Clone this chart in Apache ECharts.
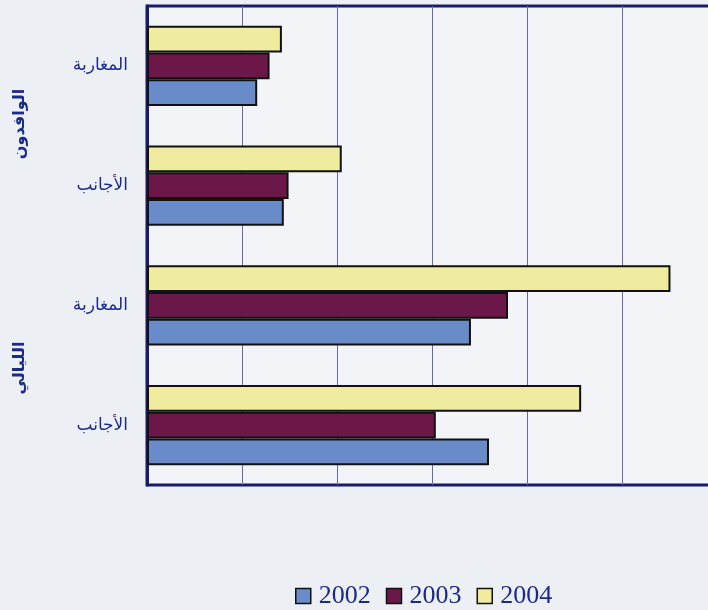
<!DOCTYPE html>
<html>
<head>
<meta charset="utf-8">
<script src="https://cdn.jsdelivr.net/npm/echarts@6/dist/echarts.min.js"></script>
<style>
  html, body { margin: 0; padding: 0; background: #eceff4; }
  #main { width: 708px; height: 610px; }
</style>
</head>
<body>
<div id="main"></div>
<script type="text/javascript">
    // data: categories listed top to bottom
    var categories = ['المغاربة', 'الأجانب', 'المغاربة', 'الأجانب'];
    var groupNames = ['الوافدون', 'الليالي'];
    var years = ['2002', '2003', '2004'];
    var values2002 = [1.16, 1.44, 3.41, 3.60];
    var values2003 = [1.29, 1.49, 3.80, 3.04];
    var values2004 = [1.42, 2.05, 5.51, 4.57];

    var colors = ['#6a8bc9', '#6b1848', '#efeb9f'];
    var navy = '#1b1a6a';

    var myChart = echarts.init(document.getElementById('main'));

    function barSeries(name, data, color) {
        return {
            name: name,
            type: 'bar',
            data: data,
            barGap: '0%',
            barCategoryGap: '33%',
            itemStyle: { color: color, borderColor: '#111', borderWidth: 2 }
        };
    }

    var option = {
        backgroundColor: '#eceff4',
        animation: false,
        grid: {
            left: 147, top: 6, bottom: 125, right: -9,
            outerBoundsMode: 'none',
            show: true,
            backgroundColor: '#f2f4f8',
            borderColor: navy,
            borderWidth: 3
        },
        legend: {
            data: years,
            left: 290,
            top: 578,
            icon: 'rect',
            itemWidth: 15,
            itemHeight: 15,
            itemGap: 15,
            itemStyle: { borderColor: '#111', borderWidth: 1.5 },
            textStyle: {
                fontFamily: 'Liberation Serif',
                fontSize: 26,
                color: '#1b2a8c',
                padding: [0, 0, 0, 3]
            }
        },
        xAxis: {
            type: 'value',
            min: 0,
            max: 6,
            interval: 1,
            axisLine: { show: false },
            axisTick: { show: false },
            axisLabel: { show: false },
            splitLine: { lineStyle: { color: '#6668a6', width: 1 } }
        },
        yAxis: {
            type: 'category',
            data: categories,
            inverse: true,
            axisLine: { lineStyle: { color: navy, width: 3 } },
            axisTick: { show: false },
            axisLabel: {
                margin: 19,
                fontFamily: 'DejaVu Sans',
                fontSize: 17,
                color: '#1b2a8c'
            }
        },
        graphic: [
            {
                type: 'text', x: 20, y: 124, rotation: Math.PI / 2,
                style: {
                    text: groupNames[0], fill: '#1b2a8c',
                    font: 'bold 16px "DejaVu Sans"',
                    align: 'center', verticalAlign: 'middle'
                }
            },
            {
                type: 'text', x: 20, y: 368, rotation: Math.PI / 2,
                style: {
                    text: groupNames[1], fill: '#1b2a8c',
                    font: 'bold 16px "DejaVu Sans"',
                    align: 'center', verticalAlign: 'middle'
                }
            }
        ],
        // 2004 is drawn at the top of each group, 2002 at the bottom
        series: [
            barSeries(years[2], values2004, colors[2]),
            barSeries(years[1], values2003, colors[1]),
            barSeries(years[0], values2002, colors[0])
        ]
    };

    myChart.setOption(option);
</script>
</body>
</html>
